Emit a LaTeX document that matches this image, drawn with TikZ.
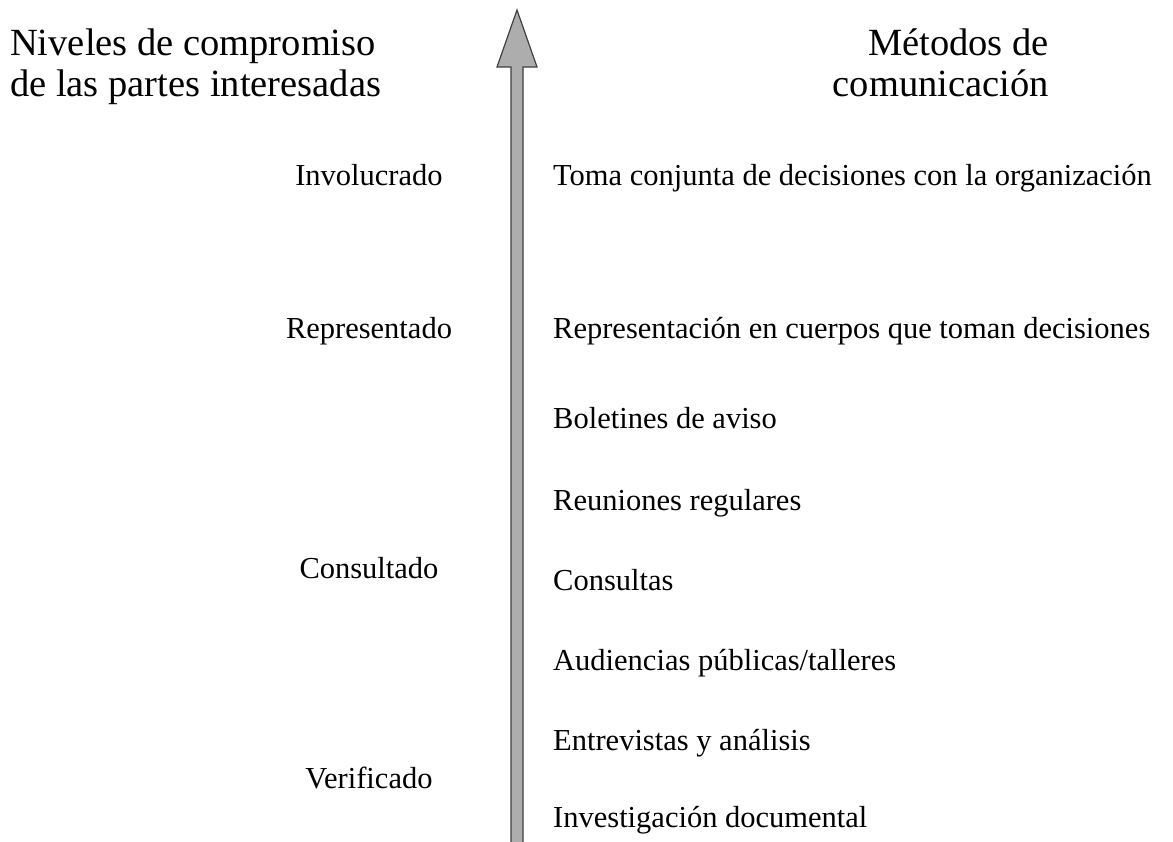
\documentclass[tikz,border=0pt]{standalone}
\usepackage{fontspec}
\setmainfont{Liberation Serif}
\begin{document}
\begin{tikzpicture}[x=1pt,y=-1pt,
  head/.style={font=\fontsize{38.5}{44}\selectfont, inner sep=0pt},
  lvl/.style={font=\fontsize{30.5}{36}\selectfont, inner sep=0pt, anchor=base},
  mth/.style={font=\fontsize{30.5}{36}\selectfont, inner sep=0pt, anchor=base west}]
\useasboundingbox (0,0) rectangle (1173,841);
\fill[white] (0,0) rectangle (1173,841);
% arrow
\draw[fill=black!32, draw=black!75, line width=1.2pt, line join=miter]
  (517,10) -- (537,67) -- (523,67) -- (523,850) -- (511,850) -- (511,67) -- (497,67) -- cycle;
% headers
\node[head, anchor=base west] (h1) at (10,55) {Niveles de compromiso};
\node[head, anchor=base west] (h2) at (10,96) {de las partes interesadas};
\node[head, anchor=base east] (h3) at (1049,55) {Métodos de};
\node[head, anchor=base east] (h4) at (1049,96) {comunicación};
% levels
\node[lvl] (l1) at (369,185) {Involucrado};
\node[lvl] (l2) at (369,338) {Representado};
\node[lvl] (l3) at (369,578) {Consultado};
\node[lvl] (l4) at (369,788) {Verificado};
% methods
\node[mth] (m1) at (553,185) {Toma conjunta de decisiones con la organización};
\node[mth] (m2) at (553,338) {Representación en cuerpos que toman decisiones};
\node[mth] (m3) at (553,428) {Boletines de aviso};
\node[mth] (m4) at (553,510) {Reuniones regulares};
\node[mth] (m5) at (553,590) {Consultas};
\node[mth] (m6) at (553,670) {Audiencias públicas/talleres};
\node[mth] (m7) at (553,750) {Entrevistas y análisis};
\node[mth] (m8) at (553,827) {Investigación documental};
\end{tikzpicture}
\end{document}
